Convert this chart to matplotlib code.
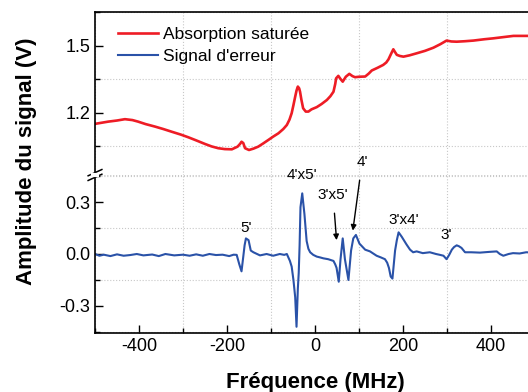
import numpy as np
import matplotlib.pyplot as plt
from matplotlib.ticker import MultipleLocator

plt.rcParams['font.family'] = ['Liberation Sans', 'DejaVu Sans']
plt.rcParams['axes.unicode_minus'] = False

# absorption saturée (V) vs fréquence (MHz)
red_f = [-500, -485, -470, -450, -432, -415, -402, -385, -364, -345, -326, -305, -288, -270,
         -250, -235, -220, -205, -189, -176, -170, -167, -163, -159, -150, -140, -129, -118,
         -106, -95, -83, -72, -64, -58, -53, -49, -45, -42, -39, -36, -34, -31, -27, -21,
         -15, -8, 4, 15, 27, 35, 42, 46, 48, 53, 58, 63, 70, 78, 85, 91, 100, 114, 122, 129,
         142, 155, 162, 167, 173, 178, 182, 186, 193, 201, 215, 231, 250, 269, 285, 299,
         310, 322, 340, 360, 385, 405, 430, 451, 470, 484, 500]
red_v = [1.151, 1.156, 1.161, 1.166, 1.172, 1.168, 1.161, 1.15, 1.139, 1.128, 1.116, 1.103,
         1.091, 1.077, 1.061, 1.05, 1.042, 1.038, 1.037, 1.049, 1.062, 1.071, 1.065, 1.042,
         1.034, 1.04, 1.049, 1.063, 1.079, 1.094, 1.109, 1.128, 1.146, 1.17, 1.199, 1.235,
         1.273, 1.3, 1.318, 1.31, 1.295, 1.26, 1.221, 1.206, 1.206, 1.216, 1.226, 1.24,
         1.258, 1.275, 1.295, 1.33, 1.355, 1.366, 1.352, 1.34, 1.362, 1.375, 1.365, 1.36,
         1.362, 1.363, 1.376, 1.39, 1.402, 1.415, 1.426, 1.44, 1.465, 1.485, 1.472, 1.46,
         1.455, 1.452, 1.458, 1.467, 1.478, 1.492, 1.508, 1.524, 1.52, 1.519, 1.521, 1.524,
         1.53, 1.534, 1.54, 1.545, 1.545, 1.545, 1.546]

# signal d'erreur (V)
blue_f = [-500, -490, -480, -465, -450, -435, -420, -405, -390, -370, -355, -340, -320, -300,
          -285, -270, -255, -240, -225, -210, -195, -185, -178, -172, -167, -163, -160, -157,
          -151, -146, -140, -125, -110, -95, -80, -70, -64, -57, -53, -49, -45, -42, -39,
          -37, -35, -33, -29, -24, -19, -15, -11, -4, 4, 12, 19, 30, 42, 46, 49, 54, 58, 63,
          68, 72, 76, 82, 87, 93, 101, 114, 125, 140, 150, 159, 164, 168, 172, 176, 182,
          186, 190, 197, 208, 216, 223, 231, 245, 261, 275, 284, 292, 299, 305, 311, 316,
          322, 327, 333, 341, 355, 375, 395, 413, 420, 428, 440, 450, 465, 480, 500]
blue_v = [0.0, -0.01, -0.004, -0.012, -0.002, -0.01, -0.006, 0.0, -0.008, -0.003, -0.012,
          0.0, -0.008, -0.004, -0.01, -0.002, -0.01, 0.0, -0.006, -0.004, -0.012, -0.004,
          -0.005, -0.06, -0.1, -0.015, 0.05, 0.09, 0.08, 0.02, 0.01, -0.008, 0.0, -0.01,
          0.0, -0.005, 0.0, -0.04, -0.073, -0.15, -0.25, -0.42, -0.2, -0.11, 0.05, 0.27,
          0.35, 0.23, 0.075, 0.03, 0.01, -0.005, -0.015, -0.02, -0.025, -0.03, -0.04, -0.06,
          -0.08, -0.16, -0.03, 0.09, -0.03, -0.09, -0.15, 0.02, 0.09, 0.11, 0.06, 0.025,
          0.015, -0.01, -0.02, -0.03, -0.05, -0.08, -0.13, -0.142, 0.02, 0.08, 0.125, 0.1,
          0.055, 0.025, 0.01, 0.015, 0.005, 0.01, 0.0, -0.005, -0.01, -0.03, -0.005, 0.025,
          0.04, 0.05, 0.045, 0.035, 0.01, 0.01, 0.008, 0.012, 0.015, 0.0, -0.01, 0.0, 0.005,
          0.003, 0.01, 0.008]

labels = ["5'", "4'x5'", "3'x5'", "4'", "3'x4'", "3'"]
label_pos = [(-157, 0.15), (-30, 0.455), (41, 0.34), (107, 0.53), (202, 0.196), (298, 0.11)]

red = '#ee1c25'
blue = '#2a52a8'

fig = plt.figure(figsize=(5.28, 3.92), dpi=100)
left, right = 95 / 528, 535 / 528
ax_top = fig.add_axes([left, 1 - 175 / 392, right - left, (175 - 12) / 392])
ax_bot = fig.add_axes([left, 1 - 333 / 392, right - left, (333 - 175) / 392], sharex=ax_top)

ax_top.plot(red_f, red_v, color=red, lw=1.9, label='Absorption saturée')
ax_bot.plot(blue_f, blue_v, color=blue, lw=1.5, label="Signal d'erreur")

ax_top.set_xlim(-500, 500)
ax_top.set_ylim(0.922, 1.652)
ax_bot.set_ylim(-0.456, 0.456)

ax_top.yaxis.set_major_locator(MultipleLocator(0.3))
ax_top.yaxis.set_minor_locator(MultipleLocator(0.15))
ax_bot.yaxis.set_major_locator(MultipleLocator(0.3))
ax_bot.yaxis.set_minor_locator(MultipleLocator(0.15))
ax_bot.xaxis.set_major_locator(MultipleLocator(200))
ax_bot.xaxis.set_minor_locator(MultipleLocator(100))

for ax in (ax_top, ax_bot):
    ax.tick_params(which='major', direction='in', length=6, width=1, labelsize=13)
    ax.tick_params(which='minor', direction='in', length=3.5, width=1)
    ax.grid(which='minor', linestyle=':', color='#c8c8c8', lw=0.8)
    ax.spines['right'].set_visible(False)
    for s in ax.spines.values():
        s.set_linewidth(1.2)
    ax.yaxis.set_major_formatter(plt.FuncFormatter(lambda v, p: f'{v:.1f}'))

ax_top.spines['bottom'].set_visible(False)
ax_bot.spines['top'].set_visible(False)
ax_top.tick_params(axis='x', which='both', bottom=False, labelbottom=False)
ax_bot.axhline(0.456, color='#c8c8c8', ls=':', lw=0.8)

ax_bot.set_xlabel('Fréquence (MHz)', fontsize=16, fontweight='bold', labelpad=12)
fig.text(0.05, 0.588, 'Amplitude du signal (V)', rotation=90, fontsize=16,
         fontweight='bold', ha='center', va='center')

# legend with both series
h1, l1 = ax_top.get_legend_handles_labels()
h2, l2 = ax_bot.get_legend_handles_labels()
fig.legend(h1 + h2, l1 + l2, loc='upper left', frameon=False, fontsize=12.5,
           handlelength=2.3, handletextpad=0.3, labelspacing=0.42,
           bbox_to_anchor=(102 / 528, 1 - 11 / 392))

# peak labels
for t, (fx, fy) in zip(labels, label_pos):
    if t == "3'x5'":
        ax_bot.annotate(t, xy=(49, 0.08), xytext=(fx, fy), ha='center', va='center',
                        fontsize=11, annotation_clip=False,
                        arrowprops=dict(arrowstyle='-|>', color='black', lw=1,
                                        shrinkA=6, shrinkB=0, mutation_scale=8))
    elif t == "4'":
        ax_bot.annotate(t, xy=(86, 0.135), xytext=(fx, fy), ha='center', va='center',
                        fontsize=11, annotation_clip=False,
                        arrowprops=dict(arrowstyle='-|>', color='black', lw=1,
                                        shrinkA=6, shrinkB=0, mutation_scale=8))
    else:
        ax_bot.text(fx, fy, t, ha='center', va='center', fontsize=11, clip_on=False)

# axis break marks on the left spine
yb = 1 - 175 / 392
for dy in (-0.006, 0.006):
    fig.add_artist(plt.Line2D([left - 0.013, left + 0.013], [yb + dy - 0.008, yb + dy + 0.008],
                              color='black', lw=1.1))
fig.add_artist(plt.Line2D([left - 0.003, left + 0.003], [yb, yb], color='white', lw=3))

fig.savefig('out.png', dpi=100)
